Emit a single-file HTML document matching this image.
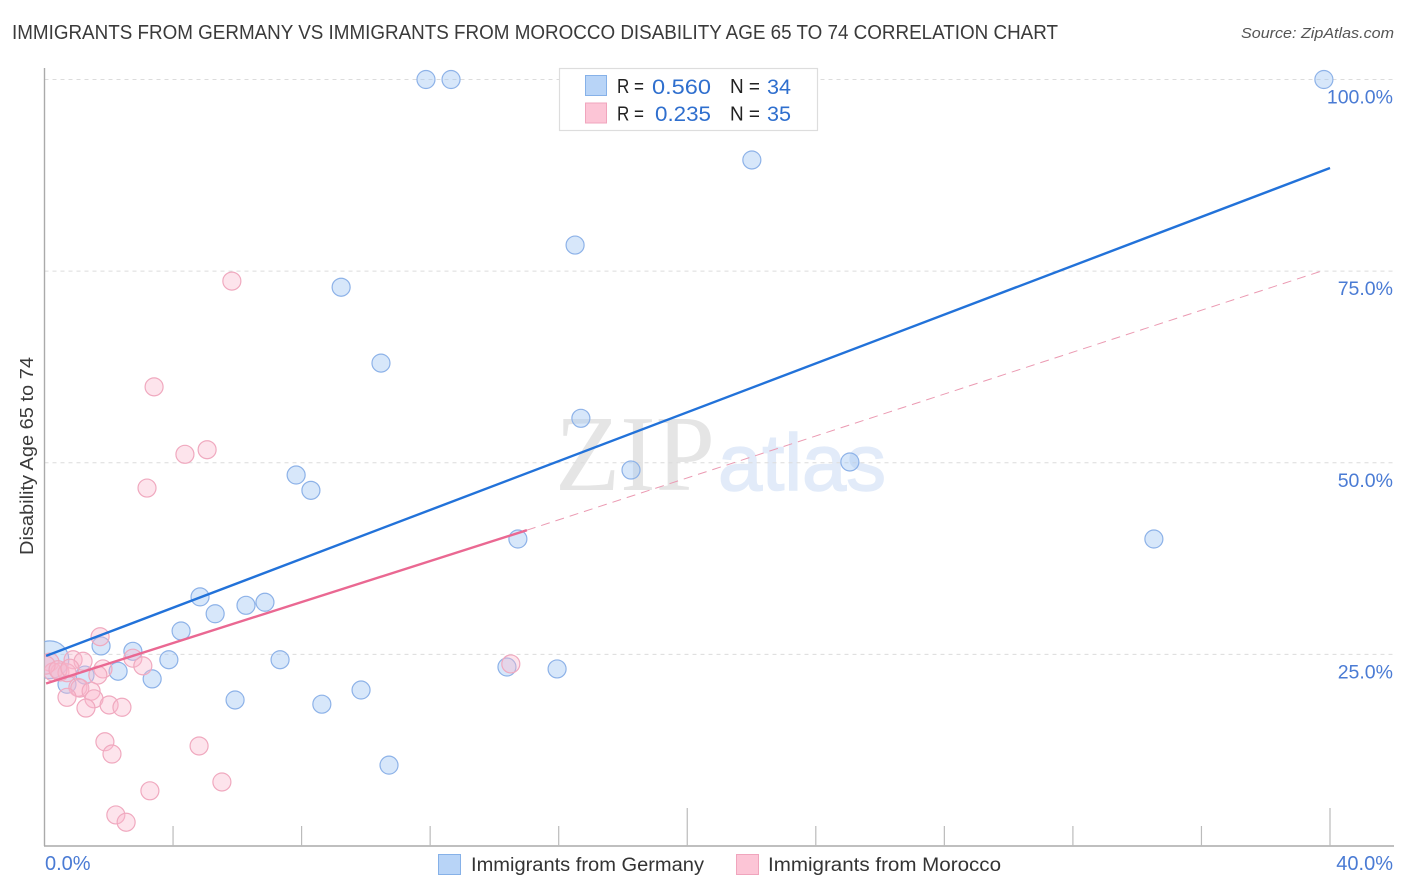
<!DOCTYPE html>
<html lang="en">
<head>
<meta charset="utf-8">
<title>Immigrants from Germany vs Immigrants from Morocco Disability Age 65 to 74 Correlation Chart</title>
<style>
html,body{margin:0;padding:0;background:#fff;}
svg{display:block;font-family:"Liberation Sans",sans-serif;}
</style>
</head>
<body>
<svg id="chart" xmlns="http://www.w3.org/2000/svg" width="1406" height="892" viewBox="0 0 1406 892">
  <defs><clipPath id="plot-clip"><rect x="44.5" y="60" width="1360" height="786"/></clipPath></defs>
  <rect x="0" y="0" width="1406" height="892" fill="#fff"/>
  <text x="12" y="39" font-size="20" fill="#3a3a3a" textLength="1046" lengthAdjust="spacingAndGlyphs">IMMIGRANTS FROM GERMANY VS IMMIGRANTS FROM MOROCCO DISABILITY AGE 65 TO 74 CORRELATION CHART</text>
  <text x="1241" y="38" font-size="15" font-style="italic" fill="#555" textLength="153" lengthAdjust="spacingAndGlyphs">Source: ZipAtlas.com</text>
  <g>
    <text x="555" y="490" font-family="'Liberation Serif',serif" font-size="108" fill="#e5e5e5" textLength="160" lengthAdjust="spacingAndGlyphs">ZIP</text>
    <text x="718" y="490" font-size="80" fill="#e2ebf9" stroke="#e2ebf9" stroke-width="1.5" textLength="168" lengthAdjust="spacingAndGlyphs">atlas</text>
  </g>
  <g id="grid"></g>
  <g id="axes"></g>
  <text transform="translate(33 555) rotate(-90)" font-size="18" fill="#3a3a3a" textLength="198" lengthAdjust="spacingAndGlyphs">Disability Age 65 to 74</text>
  <g id="marks" clip-path="url(#plot-clip)"></g>
  <g id="trends"></g>
  <g id="ylabels"></g>
  <g id="xlabels"></g>
  <g>
    <rect x="559.5" y="68.5" width="258" height="62" fill="#fff" stroke="#ddd" stroke-width="1.2"/>
    <rect x="585.5" y="75.5" width="21" height="20" fill="#b8d4f7" stroke="#86b1e8"/>
    <rect x="585.5" y="103" width="21" height="20" fill="#fcc5d6" stroke="#f0a5bd"/>
    <g font-size="20" fill="#222">
      <text x="617" y="93" textLength="27" lengthAdjust="spacingAndGlyphs">R =</text>
      <text x="730" y="93" textLength="30" lengthAdjust="spacingAndGlyphs">N =</text>
      <text x="617" y="120.500" textLength="27" lengthAdjust="spacingAndGlyphs">R =</text>
      <text x="730" y="120.500" textLength="30" lengthAdjust="spacingAndGlyphs">N =</text>
    </g>
    <g font-size="21" fill="#2f6fce">
      <text x="652" y="94" textLength="59" lengthAdjust="spacingAndGlyphs">0.560</text>
      <text x="767" y="94" textLength="24" lengthAdjust="spacingAndGlyphs">34</text>
      <text x="655" y="121" textLength="56" lengthAdjust="spacingAndGlyphs">0.235</text>
      <text x="767" y="121" textLength="24" lengthAdjust="spacingAndGlyphs">35</text>
    </g>
  </g>
  <g>
    <rect x="438.500" y="854.500" width="22" height="20" fill="#b8d4f7" stroke="#86b1e8"/>
    <text x="471" y="871" font-size="19" fill="#333" textLength="233" lengthAdjust="spacingAndGlyphs">Immigrants from Germany</text>
    <rect x="736.500" y="854.500" width="22" height="20" fill="#fcc5d6" stroke="#f0a5bd"/>
    <text x="768" y="871" font-size="19" fill="#333" textLength="233" lengthAdjust="spacingAndGlyphs">Immigrants from Morocco</text>
  </g>
</svg>
<script>
const germanyX = [11.87,12.65,39.81,22.01,16.51,9.23,10.47,16.69,7.83,8.29,18.25,25.06,14.73,34.52,4.84,5.31,6.27,6.86,4.25,1.76,2.75,2.29,3.87,3.35,1.26,0.70,7.33,5.93,8.63,9.85,10.72,14.39,15.95,0.17];
const germanyY = [100,100,100,89.5,78.4,72.9,63.0,55.8,48.4,46.4,49.05,50.1,40.05,40.05,32.5,30.3,31.4,31.8,28.05,26.1,25.4,22.8,24.3,21.8,22.3,21.1,24.3,19.05,18.5,20.35,10.55,23.35,23.1,24.3];
const germanyWeight = [1,1,1,1,1,1,1,1,1,1,1,1,1,1,1,1,1,1,1,1,1,1,1,1,1,1,1,1,1,1,1,1,1,4.4];
const moroccoX = [5.83,3.41,4.37,5.06,3.19,1.73,0.89,1.20,1.82,1.66,0.17,0.26,0.48,0.70,1.04,1.10,1.45,1.54,0.70,1.29,2.01,2.41,2.75,3.06,4.81,5.52,3.28,1.88,2.10,2.22,2.54,14.51,0.05,0.42,0.79];
const moroccoY = [73.7,59.9,51.1,51.7,46.7,27.3,24.3,24.1,23.1,22.3,24.0,22.7,22.7,22.6,20.7,20.6,20.2,19.2,19.4,18.0,18.4,18.1,24.5,23.5,13.05,8.35,7.2,13.6,12.0,4.05,3.1,23.75,23.6,23.0,23.2];
const germanyTrendX = [0.05,40];
const germanyTrendY = [24.8,88.45];
const moroccoTrendX = [0.05,15.01];
const moroccoTrendY = [21.2,41.2];
const moroccoExtendedX = [15.01,39.84];
const moroccoExtendedY = [41.2,75.15];
const yTicks = [25,50,75,100];
const yTickLabels = ['25.0%','50.0%','75.0%','100.0%'];
const xMinorTicks = [4,8,12,16,20,24,28,32,36,40];
const xTallTicks = [20,40];
const xTickValues = [0,40];
const xTickLabels = ['0.0%','40.0%'];

const NS = 'http://www.w3.org/2000/svg';
const xScale = v => 44.5 + v * 32.1375;
const yScale = v => 846 - v * 7.665;
function make(tag, attrs, parent){
  const el = document.createElementNS(NS, tag);
  for (const k in attrs) el.setAttribute(k, attrs[k]);
  parent.appendChild(el);
  return el;
}
const grid = document.getElementById('grid');
const axes = document.getElementById('axes');
const marks = document.getElementById('marks');
const trends = document.getElementById('trends');
const ylabels = document.getElementById('ylabels');
const xlabels = document.getElementById('xlabels');

yTicks.forEach((t, i) => {
  const g = make('line', {x1:44.5, x2:1394, y1:yScale(t), y2:yScale(t), stroke:'#dcdcdc', 'stroke-width':1, 'stroke-dasharray':'4 4'}, grid);
  
  
  const lab = make('text', {x:1393, y:yScale(t)+24, 'text-anchor':'end', 'font-size':19.5, fill:'#4a7bd4'}, ylabels);
  
  
  lab.textContent = yTickLabels[i];
});

const yAxis = make('line', {x1:44.5, x2:44.5, y1:68, y2:846, stroke:'#aaa', 'stroke-width':1.4}, axes);


const xAxis = make('line', {x1:44, x2:1394, y1:846, y2:846, stroke:'#aaa', 'stroke-width':1.4}, axes);


xMinorTicks.forEach(t => {
  const top = xTallTicks.includes(t) ? 808 : 826;
  const tick = make('line', {x1:xScale(t), x2:xScale(t), y1:top, y2:846, stroke:'#bbb', 'stroke-width':1.2}, axes);
  
  
});
xTickValues.forEach((t, i) => {
  const attrs = i === 0 ? {x:45, 'text-anchor':'start'} : {x:1393, 'text-anchor':'end'};
  const lab = make('text', Object.assign(attrs, {y:870, 'font-size':20, fill:'#4a7bd4'}), xlabels);
  
  
  lab.textContent = xTickLabels[i];
});

germanyX.forEach((x, i) => {
  const c = make('circle', {cx:xScale(x), cy:yScale(germanyY[i]), r:9*Math.sqrt(germanyWeight[i]), fill:'rgba(160,198,242,0.42)', stroke:'#8db2e8', 'stroke-width':1.2}, marks);
  
  
});
moroccoX.forEach((x, i) => {
  const c = make('circle', {cx:xScale(x), cy:yScale(moroccoY[i]), r:9, fill:'rgba(250,185,205,0.38)', stroke:'#f0a9bf', 'stroke-width':1.2}, marks);
  
  
});

const dashed = make('line', {x1:xScale(moroccoExtendedX[0]), y1:yScale(moroccoExtendedY[0]), x2:xScale(moroccoExtendedX[1]), y2:yScale(moroccoExtendedY[1]), stroke:'#eb9ab2', 'stroke-width':1, 'stroke-dasharray':'9 6'}, trends);


const blueLine = make('line', {x1:xScale(germanyTrendX[0]), y1:yScale(germanyTrendY[0]), x2:xScale(germanyTrendX[1]), y2:yScale(germanyTrendY[1]), stroke:'#2272d9', 'stroke-width':2.4}, trends);


const pinkLine = make('line', {x1:xScale(moroccoTrendX[0]), y1:yScale(moroccoTrendY[0]), x2:xScale(moroccoTrendX[1]), y2:yScale(moroccoTrendY[1]), stroke:'#ea6892', 'stroke-width':2.4}, trends);


</script>
</body>
</html>
